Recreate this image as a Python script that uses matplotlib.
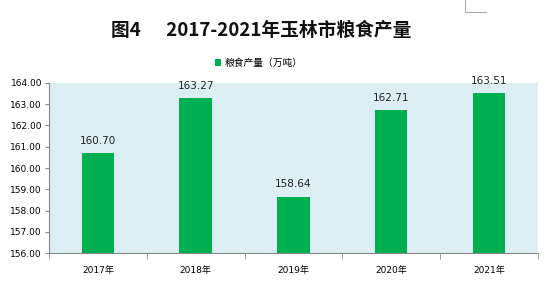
import matplotlib
matplotlib.use("Agg")
import matplotlib.pyplot as plt
import numpy as np

plt.rcParams['font.family'] = ['DejaVu Sans', 'Noto Sans CJK SC']

# ---- данные ----
years = ["2017年", "2018年", "2019年", "2020年", "2021年"]
grain = [160.70, 163.27, 158.64, 162.71, 163.51]
y_ticks = [156, 157, 158, 159, 160, 161, 162, 163, 164]

fig = plt.figure(figsize=(5.5, 2.85), dpi=100)
ax = fig.add_axes([0.089, 0.112, 0.889, 0.597])
ax.set_facecolor("#DAEEF3")

x = np.arange(len(years))
ax.bar(x, grain, width=0.33, color="#00B050", label="粮食产量（万吨）", zorder=2)
for xi, v in zip(x, grain):
    ax.text(xi, v + 0.35, f"{v:.2f}", ha="center", va="bottom", fontsize=7.5, color="#222222")

ax.set_xlim(-0.5, len(years) - 0.5)
ax.set_ylim(156, 164)
ax.set_yticks(y_ticks)
ax.set_yticklabels([f"{t:.2f}" for t in y_ticks], fontsize=6.5)
ax.set_xticks(x)
ax.set_xticklabels(years, fontsize=6.5)
ax.tick_params(axis="x", length=0, pad=9)
ax.tick_params(axis="y", length=3, color="#888888", pad=2)
# разделительные тики между категориями
ax.set_xticks(np.arange(-0.5, len(years), 1), minor=True)
ax.tick_params(axis="x", which="minor", length=4, color="#888888")

for s in ["top", "right"]:
    ax.spines[s].set_visible(False)
for s in ["left", "bottom"]:
    ax.spines[s].set_color("#888888")
    ax.spines[s].set_linewidth(0.8)

fig.text(0.475, 0.895, "图4      2017-2021年玉林市粮食产量", ha="center", va="center",
         fontsize=13.5, fontweight="bold", color="#111111",
         family=['Noto Sans CJK SC', 'DejaVu Sans'])
ax.legend(loc="center", bbox_to_anchor=(0.47, 0.778), bbox_transform=fig.transFigure,
          frameon=False, fontsize=7, handlelength=0.7, handleheight=0.7, handletextpad=0.3,
          prop={'family': ['Noto Sans CJK SC', 'DejaVu Sans'], 'size': 7})

# уголок рамки в правом верхнем углу
fig.add_artist(plt.Line2D([0.846, 0.846, 0.884], [1.0, 0.958, 0.958], color="#AAAAAA", lw=0.8))

fig.savefig("out.png", dpi=100)
